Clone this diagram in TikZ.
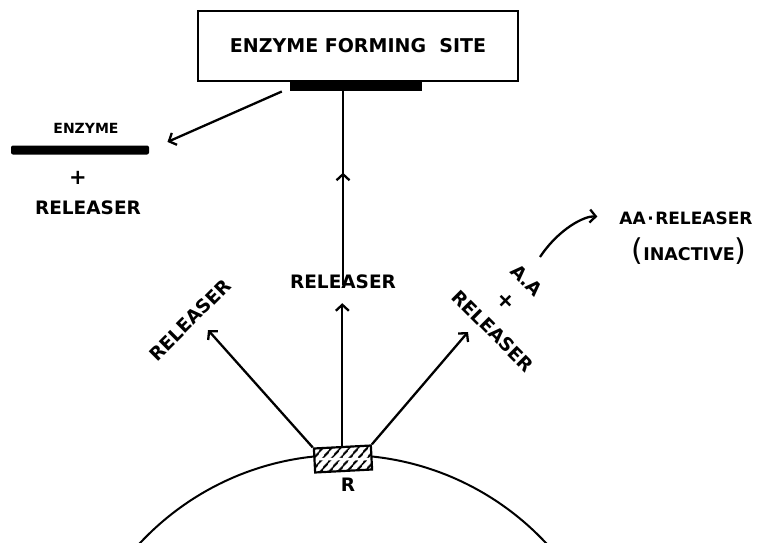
\documentclass[tikz,border=0pt]{standalone}
\usepackage{fontspec}
\setmainfont{DejaVu Sans}
\usetikzlibrary{arrows.meta,patterns.meta,decorations.markings}

\begin{document}
\begin{tikzpicture}[x=1pt,y=-1pt,
  lbl/.style={font=\bfseries\fontsize{18.5}{22}\selectfont,align=center,inner sep=0pt},
  small/.style={font=\bfseries\fontsize{14}{16}\selectfont,inner sep=0pt},
  arr/.style={-{Straight Barb[length=6pt,width=13pt]},line width=2.3pt},
  midarr/.style={postaction={decorate},decoration={markings,
    mark=at position #1 with {\arrow{Straight Barb[length=6pt,width=13pt]}}}}
]
\useasboundingbox (0,0) rectangle (758,543);

% cell surface
\begin{scope}
  \clip (0,0) rectangle (758,543);
  \draw[line width=2pt] (343,733) circle[radius=278];
\end{scope}

% site at the top
\node[draw,line width=2.2pt,minimum width=320pt,minimum height=70pt,
  font=\bfseries\fontsize{19}{24}\selectfont] (site) at (358,46) {ENZYME FORMING~~SITE};
\node[fill=black,minimum width=132pt,minimum height=9pt,inner sep=0pt,anchor=north]
  (sitebar) at ([xshift=-2pt]site.south) {};

% enzyme released to the left
\node[fill=black,rounded corners=2pt,minimum width=138pt,minimum height=9pt,inner sep=0pt]
  (enzbar) at (80,150) {};
\node[small] (enzlbl) at (86,128) {ENZYME};
\node[lbl,font=\bfseries\fontsize{21}{24}\selectfont] (plusL) at (78,178) {+};
\node[lbl] (relB) at (88,208) {RELEASER};

% receptor, hatched in two rows
\node[draw,line width=2.2pt,minimum width=57pt,minimum height=24pt,inner sep=0pt,
  fill=white,
  path picture={
    \fill[pattern={Lines[angle=50,distance=6.5pt,line width=2pt]}]
      (path picture bounding box.south west) rectangle (path picture bounding box.north east);
    \draw[white,line width=2.5pt]
      (path picture bounding box.west) -- (path picture bounding box.east);},
  rotate=3] (R) at (343,459) {};
\node[lbl] (Rlbl) at (348,485) {R};

% releaser going out
\node[lbl] (relC) at (343,282) {RELEASER};
\node[lbl,rotate=45] (relL) at (190,320) {RELEASER};
\node[lbl,rotate=-45] (aa) at (527,280) {A.A};
\node[lbl,font=\bfseries\fontsize{22}{24}\selectfont,rotate=-45] (plusR) at (506,301) {+};
\node[lbl,rotate=-45] (relR) at (493,331) {RELEASER};

\node[lbl,font=\bfseries\fontsize{17}{22}\selectfont] (aar) at (686,218) {AA\kern1.5pt·\kern1.5pt RELEASER};
\node[lbl,font=\bfseries\fontsize{17.5}{22}\selectfont] (inact) at (689,251)
  {{\fontsize{30}{30}\selectfont\mdseries(}INACTIVE{\fontsize{30}{30}\selectfont\mdseries)}};

\coordinate (tipL) at (208,330);
\coordinate (tipR) at (468,332);
\coordinate (aastart) at (540,257);

\draw[arr] (R.north west) -- (tipL);
\draw[arr,shorten >=14pt] (R.north) -- (R.north |- relC.south);
\draw[arr] (R.north east) -- (tipR);

\draw[line width=2.3pt,midarr=0.58] ([yshift=-10pt]relC.north) -- (relC.north |- sitebar.south);
\draw[arr,shorten >=20pt] ([xshift=-8pt]sitebar.south west) -- (enzbar.east);
\draw[arr,shorten >=22pt] (aastart) to[bend left=30] (aar.west);
\end{tikzpicture}
\end{document}
